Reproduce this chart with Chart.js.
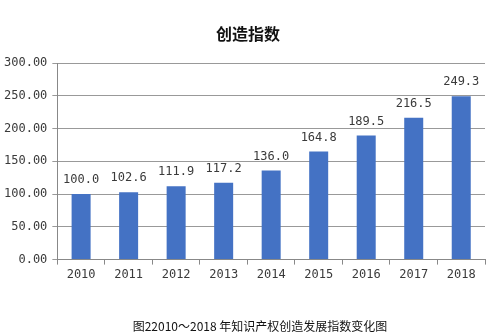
<!DOCTYPE html>
<html>
<head>
<meta charset="utf-8">
<script src="https://cdn.jsdelivr.net/npm/chart.js@4/dist/chart.umd.min.js"></script>
<style>
  html, body { margin: 0; padding: 0; background: #fff; }
  #wrap { width: 492px; height: 334px; }
</style>
</head>
<body>
<div id="wrap"><canvas id="c" width="492" height="334"></canvas></div>
<script>
const years = ['2010', '2011', '2012', '2013', '2014', '2015', '2016', '2017', '2018'];
const creationIndex = [100.0, 102.6, 111.9, 117.2, 136.0, 164.8, 189.5, 216.5, 249.3];
const yMin = 0;
const yMax = 300;
const yStep = 50;
const chartTitle = '创造指数';
const caption = '图22010～2018 年知识产权创造发展指数变化图';

const monoFont = "'DejaVu Sans Mono', 'Liberation Mono', monospace";
const cjkFont = "'Noto Sans CJK SC', sans-serif";

// Writes each bar's value just above its top
const valueLabels = {
  id: 'valueLabels',
  afterDatasetsDraw(chart) {
    const ctx = chart.ctx;
    const meta = chart.getDatasetMeta(0);
    ctx.save();
    ctx.font = '12px ' + monoFont;
    ctx.fillStyle = '#3a3a3a';
    ctx.textAlign = 'center';
    ctx.textBaseline = 'bottom';
    meta.data.forEach((bar, i) => {
      ctx.fillText(chart.data.datasets[0].data[i].toFixed(1), bar.x, bar.y - 8);
    });
    ctx.restore();
  }
};

// Heading above the plot and figure caption below it
const headings = {
  id: 'headings',
  afterDraw(chart) {
    const ctx = chart.ctx;
    ctx.save();
    ctx.fillStyle = '#111';
    ctx.textAlign = 'center';
    ctx.textBaseline = 'middle';
    ctx.font = 'bold 16px ' + cjkFont;
    ctx.fillText(chartTitle, 248, 34);
    ctx.font = '12px ' + cjkFont;
    ctx.fillText(caption, 260, 326);
    ctx.restore();
  }
};

new Chart(document.getElementById('c'), {
  type: 'bar',
  data: {
    labels: years,
    datasets: [{
      data: creationIndex,
      backgroundColor: '#4472C4',
      barPercentage: 0.4,
      categoryPercentage: 1.0
    }]
  },
  options: {
    responsive: false,
    animation: false,
    layout: { padding: { left: -1, right: 7, top: 63, bottom: 49 } },
    plugins: {
      legend: { display: false },
      tooltip: { enabled: false },
      title: { display: false }
    },
    scales: {
      x: {
        grid: {
          display: true,
          drawOnChartArea: false,
          offset: true,
          tickLength: 5,
          color: '#888'
        },
        border: { color: '#888' },
        ticks: { color: '#3a3a3a', font: { family: monoFont, size: 12 }, padding: 3 }
      },
      y: {
        min: yMin,
        max: yMax,
        grid: { color: '#999', tickLength: 5 },
        border: { color: '#888' },
        ticks: {
          stepSize: yStep,
          color: '#3a3a3a',
          font: { family: monoFont, size: 12 },
          padding: 5,
          callback: v => v.toFixed(2)
        }
      }
    }
  },
  plugins: [valueLabels, headings]
});
</script>
</body>
</html>
